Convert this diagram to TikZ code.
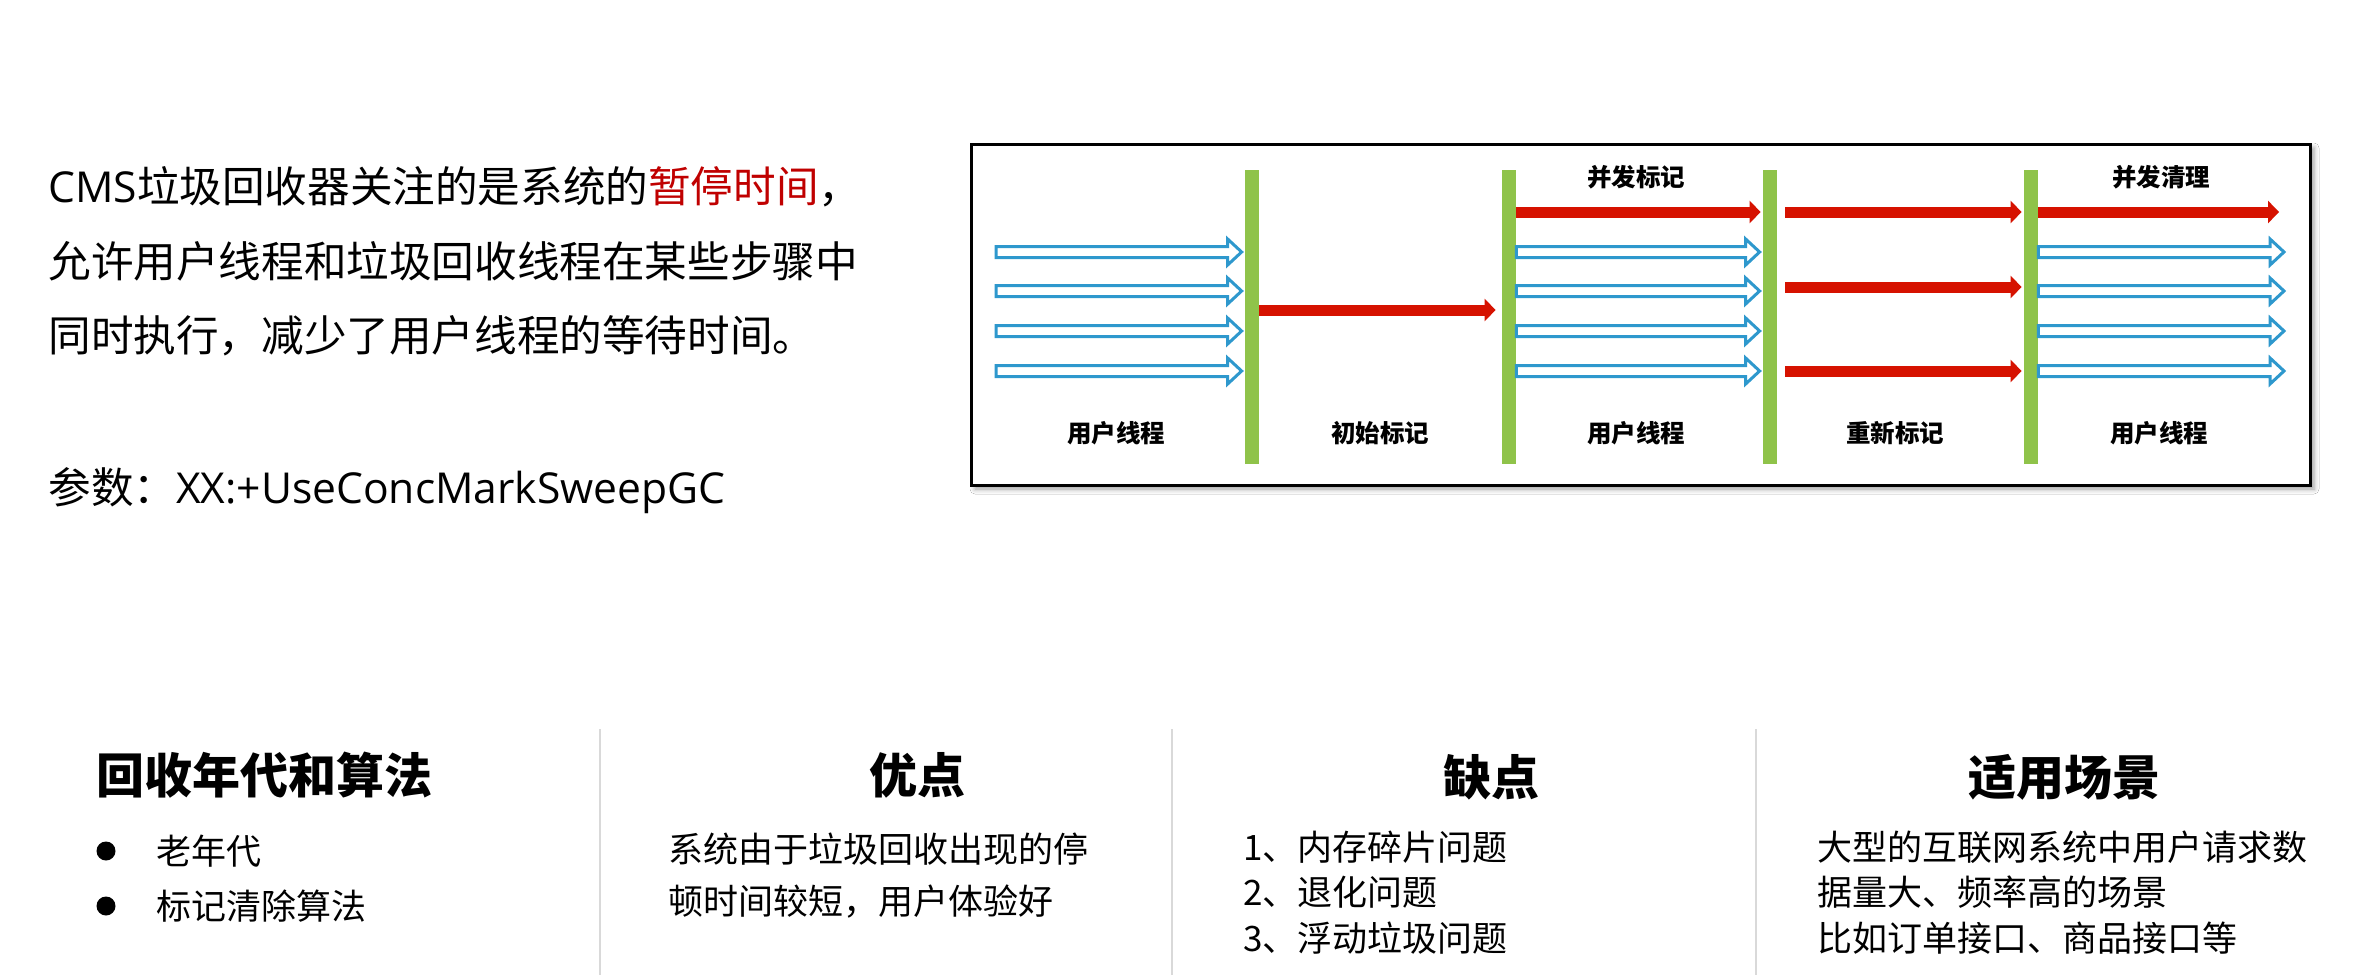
\documentclass[tikz,border=0pt]{standalone}
\usepackage{fontspec}
\setmainfont{Noto Sans CJK SC}
\newfontfamily\latinfont{Open Sans}
\usepackage{xcolor}
\usetikzlibrary{arrows.meta, positioning, calc, shadows.blur}
\definecolor{cmsBlue}{RGB}{46,152,205}
\definecolor{cmsRed}{RGB}{214,18,0}
\definecolor{cmsGreen}{RGB}{143,195,74}
\definecolor{cmsText}{RGB}{192,0,0}
\definecolor{cmsGrey}{RGB}{217,217,217}

\begin{document}
\begin{tikzpicture}[x=0.5pt, y=-0.5pt,
  frameBox/.style={draw=black, line width=1.5pt, fill=white, inner sep=0pt,
                   minimum width=669.5pt, minimum height=170.5pt,
                   blur shadow={shadow xshift=2pt, shadow yshift=-2pt, shadow blur radius=2.5pt}},
  gcBar/.style={rectangle, fill=cmsGreen, inner sep=0pt, minimum width=7pt, minimum height=147pt},
  gcThread/.style={draw=cmsRed, line width=5.5pt, -{Triangle[length=5.5pt, width=11pt]}},
  userThread/.style={draw=cmsBlue, line width=1.5pt, fill=white, line join=miter,
    to path={let \p1=(\tikztostart), \p2=(\tikztotarget) in
      (\x1,\y1+2.75pt) -- (\x2-8.5pt,\y1+2.75pt) -- (\x2-8.5pt,\y1+6.5pt) -- (\x2-1.5pt,\y1)
      -- (\x2-8.5pt,\y1-6.5pt) -- (\x2-8.5pt,\y1-2.75pt) -- (\x1,\y1-2.75pt) -- cycle}},
  stageLabel/.style={inner sep=0pt, font=\fontsize{12.25pt}{14pt}\selectfont\bfseries},
  bodyText/.style={anchor=west, inner sep=0pt, font=\fontsize{21.3pt}{26pt}\selectfont},
  colHead/.style={inner sep=0pt, font=\fontsize{24pt}{28pt}\selectfont\bfseries},
  colText/.style={anchor=west, inner sep=0pt, font=\fontsize{17.5pt}{21pt}\selectfont},
  bulletDot/.style={circle, fill=black, inner sep=0pt, minimum size=9.5pt},
  colRule/.style={draw=cmsGrey, line width=1pt}]

\fill[white] (0,0) rectangle (2380,975);
\useasboundingbox (0,0) rectangle (2380,975);

\node[bodyText] (intro1) at (48,187) {{\latinfont CMS}垃圾回收器关注的是系统的\textcolor{cmsText}{暂停时间}，};
\node[bodyText] (intro2) at (48,261) {允许用户线程和垃圾回收线程在某些步骤中};
\node[bodyText] (intro3) at (48,336) {同时执行，减少了用户线程的等待时间。};
\node[bodyText] (param) at (48,491) {参数：{\latinfont XX:+UseConcMarkSweepGC}};

\node[frameBox] (frame) at (1640.5,314.5) {};
\node[gcBar] (b1) at (1252,317) {};
\node[gcBar] (b2) at (1509,317) {};
\node[gcBar] (b3) at (1770,317) {};
\node[gcBar] (b4) at (2031,317) {};

\coordinate (rTop) at (0,212);
\coordinate (r1) at (0,252);
\coordinate (r2) at (0,291);
\coordinate (r3) at (0,331);
\coordinate (r4) at (0,371);
\coordinate (rMid) at (0,287);
\coordinate (rInit) at (0,310);
\coordinate (startL) at (996,0);
\coordinate (endR) at (2287,0);

\foreach \r in {r1,r2,r3,r4} {
  \draw[userThread] (startL |- \r) to (b1.west |- \r);
  \draw[userThread] (b2.east |- \r) to (b3.west |- \r);
  \draw[userThread] (b4.east |- \r) to (endR |- \r);
}
\draw[gcThread] (b1.east |- rInit) -- ([xshift=-3pt]b2.west |- rInit);
\draw[gcThread] (b2.east |- rTop) -- ([xshift=-1pt]b3.west |- rTop);
\foreach \r in {rTop,rMid,r4}
  \draw[gcThread] ([xshift=4pt]b3.east |- \r) -- ([xshift=-1pt]b4.west |- \r);
\draw[gcThread] (b4.east |- rTop) -- ([xshift=-4pt]endR |- rTop);

\node[stageLabel] (lUser1) at (1116,433) {用户线程};
\node[stageLabel] (lInit) at (1380,433) {初始标记};
\node[stageLabel] (lUser2) at (1636,433) {用户线程};
\node[stageLabel] (lRemark) at (1895,433) {重新标记};
\node[stageLabel] (lUser3) at (2159,433) {用户线程};
\node[stageLabel] (lConc) at (1636,177) {并发标记};
\node[stageLabel] (lSweep) at (2161,177) {并发清理};

\draw[colRule] (600,729) -- (600,975);
\draw[colRule] (1172,729) -- (1172,975);
\draw[colRule] (1756,729) -- (1756,975);

\node[colHead, anchor=west] (hAge) at (96,775) {回收年代和算法};
\node[bulletDot] (d1) at (106,851) {};
\node[colText] (age1) at (156,851) {老年代};
\node[bulletDot] (d2) at (106,906) {};
\node[colText] (age2) at (156,906) {标记清除算法};

\node[colHead] (hPro) at (917,775) {优点};
\node[colText] (pro1) at (668,849) {系统由于垃圾回收出现的停};
\node[colText] (pro2) at (668,902) {顿时间较短，用户体验好};

\node[colHead] (hCon) at (1491,777) {缺点};
\node[colText] (con1) at (1243,847) {1、内存碎片问题};
\node[colText] (con2) at (1243,892) {2、退化问题};
\node[colText] (con3) at (1243,938) {3、浮动垃圾问题};

\node[colHead] (hUse) at (2064,777) {适用场景};
\node[colText] (use1) at (1817,847) {大型的互联网系统中用户请求数};
\node[colText] (use2) at (1817,892) {据量大、频率高的场景};
\node[colText] (use3) at (1817,938) {比如订单接口、商品接口等};
\end{tikzpicture}
\end{document}
